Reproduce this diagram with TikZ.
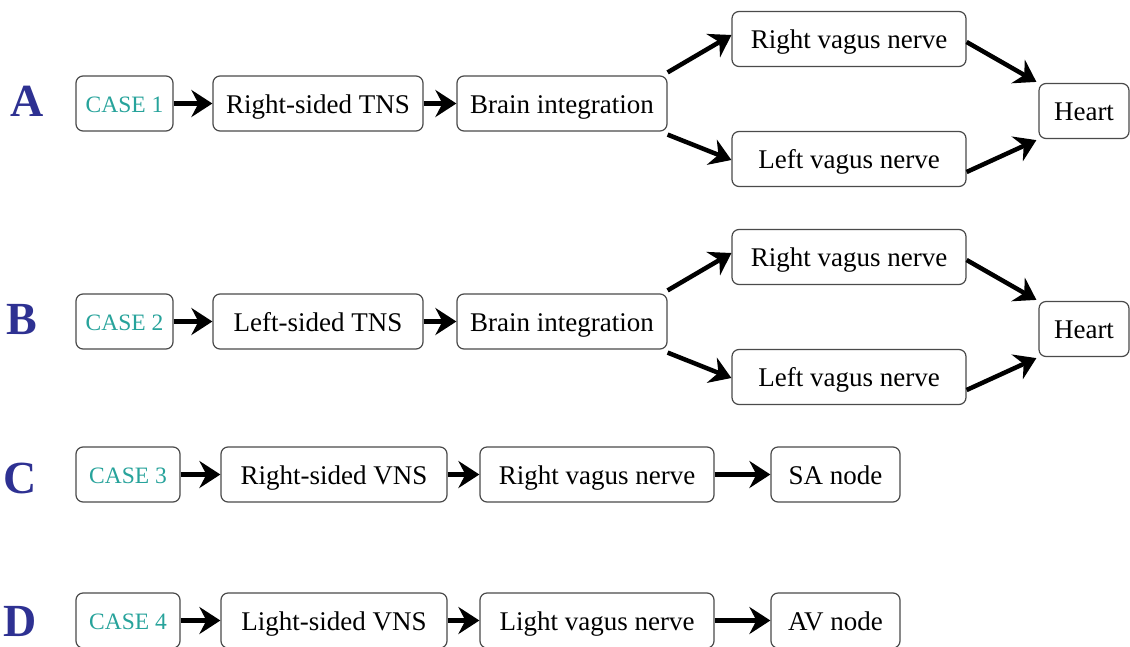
\documentclass[tikz,border=0pt]{standalone}
\usepackage{fontspec}
\setmainfont{Liberation Serif}
\usetikzlibrary{arrows.meta}
\definecolor{casecol}{HTML}{27A39B}
\definecolor{panelcol}{HTML}{2E3192}
\definecolor{edgecol}{HTML}{4A4A4A}
\tikzset{
  box/.style={draw=edgecol, line width=1.2pt, rounded corners=7pt, fill=white,
    minimum height=55pt, inner sep=0pt, text height=22pt, text depth=3pt,
    font=\fontsize{27}{29}\selectfont},
  casebox/.style={box, text=casecol, font=\fontsize{23.5}{25}\selectfont,
    text height=20pt, text depth=3pt},
  flow/.style={line width=4.5pt, -{Stealth[length=21pt, width=27pt, inset=7pt]}},
  panel/.style={font=\fontsize{46}{48}\selectfont\bfseries, text=panelcol}
}
\begin{document}
\begin{tikzpicture}[x=1pt, y=-1pt]
\useasboundingbox (0,0) rectangle (1130,646);

% Panel A
\node[panel] (lA) at (27,101) {A};
\node[casebox, minimum width=97pt]  (cA)  at (124.5,103.5) {CASE 1};
\node[box, minimum width=210pt]     (tA)  at (318,103.5) {Right-sided TNS};
\node[box, minimum width=210pt]     (bA)  at (562,103.5) {Brain integration};
\node[box, minimum width=234pt]     (rA)  at (849,39) {Right vagus nerve};
\node[box, minimum width=234pt]     (vA)  at (849,159) {Left vagus nerve};
\node[box, minimum width=90pt]      (hA)  at (1084,111) {Heart};
\draw[flow] (cA.east) -- (tA.west);
\draw[flow] (tA.east) -- (bA.west);
\draw[flow] ([yshift=3pt]bA.north east) -- ([yshift=4pt]rA.west);
\draw[flow] ([yshift=-3pt]bA.south east) -- ([yshift=-1pt]vA.west);
\draw[flow] ([yshift=-3pt]rA.east) -- ([xshift=-2pt,yshift=1pt]hA.north west);
\draw[flow] ([yshift=-13pt]vA.east) -- ([xshift=-2pt,yshift=-1pt]hA.south west);

% Panel B
\node[panel] (lB) at (22,320) {B};
\node[casebox, minimum width=97pt]  (cB)  at (124.5,321.5) {CASE 2};
\node[box, minimum width=210pt]     (tB)  at (318,321.5) {Left-sided TNS};
\node[box, minimum width=210pt]     (bB)  at (562,321.5) {Brain integration};
\node[box, minimum width=234pt]     (rB)  at (849,257) {Right vagus nerve};
\node[box, minimum width=234pt]     (vB)  at (849,377) {Left vagus nerve};
\node[box, minimum width=90pt]      (hB)  at (1084,329) {Heart};
\draw[flow] (cB.east) -- (tB.west);
\draw[flow] (tB.east) -- (bB.west);
\draw[flow] ([yshift=3pt]bB.north east) -- ([yshift=4pt]rB.west);
\draw[flow] ([yshift=-3pt]bB.south east) -- ([yshift=-1pt]vB.west);
\draw[flow] ([yshift=-3pt]rB.east) -- ([xshift=-2pt,yshift=1pt]hB.north west);
\draw[flow] ([yshift=-13pt]vB.east) -- ([xshift=-2pt,yshift=-1pt]hB.south west);

% Panel C
\node[panel] (lC) at (20,478) {C};
\node[casebox, minimum width=104pt] (cC)  at (128,474.5) {CASE 3};
\node[box, minimum width=226pt]     (sC)  at (334,474.5) {Right-sided VNS};
\node[box, minimum width=234pt]     (rC)  at (597,474.5) {Right vagus nerve};
\node[box, minimum width=129pt]     (nC)  at (835.5,474.5) {SA node};
\draw[flow] (cC.east) -- (sC.west);
\draw[flow] (sC.east) -- (rC.west);
\draw[flow] (rC.east) -- (nC.west);

% Panel D
\node[panel] (lD) at (20,621) {D};
\node[casebox, minimum width=104pt] (cD)  at (128,620.5) {CASE 4};
\node[box, minimum width=226pt]     (sD)  at (334,620.5) {Light-sided VNS};
\node[box, minimum width=234pt]     (rD)  at (597,620.5) {Light vagus nerve};
\node[box, minimum width=129pt]     (nD)  at (835.5,620.5) {AV node};
\draw[flow] (cD.east) -- (sD.west);
\draw[flow] (sD.east) -- (rD.west);
\draw[flow] (rD.east) -- (nD.west);
\end{tikzpicture}
\end{document}
